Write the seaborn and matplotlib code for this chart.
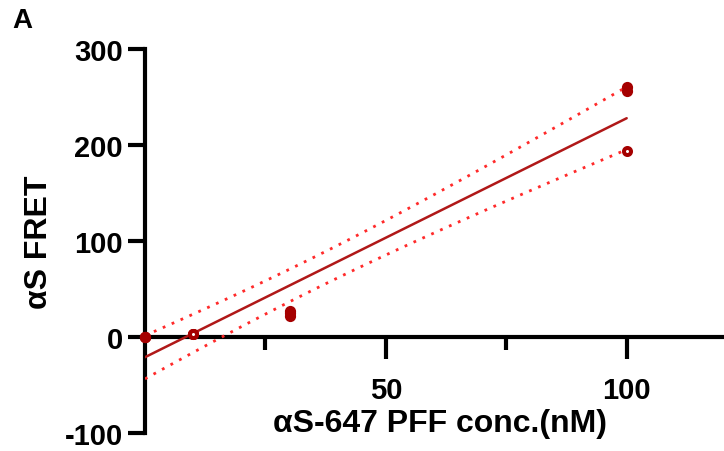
import numpy as np
import pandas as pd
import matplotlib
matplotlib.use("Agg")
import matplotlib.pyplot as plt
import seaborn as sns

# Data
conc = [0, 0, 0, 10, 10, 10, 30, 30, 30, 100, 100, 100]
fret = [0, 0, 0, 3, 3, 3, 22, 25, 27, 260, 256, 194]
hollow = [False, False, False, True, True, True, False, False, False, False, False, True]
x_ticks_major = [50, 100]
x_ticks_minor = [25, 75]
y_ticks = [-100, 0, 100, 200, 300]
x_label = "αS-647 PFF conc.(nM)"
y_label = "αS FRET"
panel = "A"

df = pd.DataFrame({"conc": conc, "fret": fret, "hollow": hollow})

sns.set_style("ticks")
plt.rcParams["font.family"] = ["Liberation Sans", "DejaVu Sans"]
plt.rcParams["font.weight"] = "bold"
plt.rcParams["axes.unicode_minus"] = False
plt.rcParams["text.color"] = "black"
plt.rcParams["xtick.color"] = "black"
plt.rcParams["ytick.color"] = "black"

fig = plt.figure(figsize=(7.24, 4.52), dpi=100)
ax = fig.add_axes([145 / 724, 1 - 434 / 452, (723 - 145) / 724, (434 - 50) / 452])

dark = "#A50000"
line_c = "#B01818"
ci_c = "#FF2A2A"

# linear regression with 95% confidence band
x = np.array(conc, float)
y = np.array(fret, float)
n = len(x)
slope, intercept = np.polyfit(x, y, 1)
resid = y - (slope * x + intercept)
s = np.sqrt(np.sum(resid ** 2) / (n - 2))
sxx = np.sum((x - x.mean()) ** 2)
t_crit = 2.228  # t(0.975, df=10)
xs = np.linspace(x.min(), x.max(), 100)
ys = slope * xs + intercept
se = s * np.sqrt(1 / n + (xs - x.mean()) ** 2 / sxx)
fit = pd.DataFrame({"x": xs, "y": ys, "lo": ys - t_crit * se, "hi": ys + t_crit * se})

sns.lineplot(data=fit, x="x", y="y", ax=ax, color=line_c, lw=1.8, zorder=3)
sns.lineplot(data=fit, x="x", y="hi", ax=ax, color=ci_c, lw=2, ls=(0, (1, 2.5)), zorder=3)
sns.lineplot(data=fit, x="x", y="lo", ax=ax, color=ci_c, lw=2, ls=(0, (1, 2.5)), zorder=3)

sns.scatterplot(data=df[~df.hollow], x="conc", y="fret", ax=ax, color=dark, s=65,
                edgecolor=dark, linewidth=0, zorder=5, clip_on=False)
sns.scatterplot(data=df[df.hollow], x="conc", y="fret", ax=ax, color="white", s=26,
                edgecolor=dark, linewidth=2.85, zorder=5, clip_on=False)

ax.set_xlim(0, 120)
ax.set_ylim(-100, 300)
ax.spines["bottom"].set_position(("data", 0))
ax.spines["top"].set_visible(False)
ax.spines["right"].set_visible(False)
for sp in ["left", "bottom"]:
    ax.spines[sp].set_linewidth(3)
    ax.spines[sp].set_color("black")

ax.set_xticks(x_ticks_major)
ax.set_xticks(x_ticks_minor, minor=True)
ax.set_yticks(y_ticks)
ax.tick_params(axis="x", which="major", length=16, width=3, direction="out", labelsize=21, pad=12,
               colors="black")
ax.tick_params(axis="x", which="minor", length=9, width=3, direction="out", colors="black")
ax.tick_params(axis="y", which="major", length=12, width=3, direction="out", labelsize=21, pad=4,
               colors="black")
for lab in ax.get_xticklabels() + ax.get_yticklabels():
    lab.set_fontweight("bold")

ax.set_xlabel("")
ax.set_ylabel("")
fig.text(440 / 724, 1 - 424 / 452, x_label, ha="center", va="center", fontsize=23, fontweight="bold")
fig.text(39 / 724, 1 - 242 / 452, y_label, ha="center", va="center", rotation=90, fontsize=23, fontweight="bold")
fig.text(12 / 724, 1 - 21 / 452, panel, ha="left", va="center", fontsize=20, fontweight="bold")

fig.savefig("out.png", dpi=100)
